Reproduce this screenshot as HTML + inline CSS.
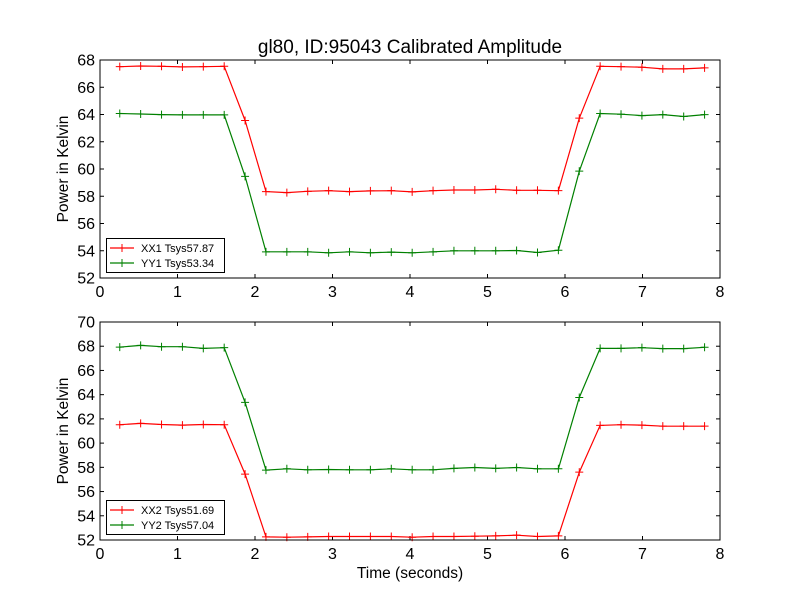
<!DOCTYPE html>
<html><head><meta charset="utf-8"><style>
body{margin:0;background:#fff;}
svg{display:block;font-family:"Liberation Sans",sans-serif;}
</style></head><body>
<svg id="chart" width="800" height="600" viewBox="0 0 800 600">
<rect width="800" height="600" fill="#fff"/>
<text x="410" y="53" font-size="19" text-anchor="middle">gl80, ID:95043 Calibrated Amplitude</text>
<text x="410" y="578" font-size="15.5" text-anchor="middle">Time (seconds)</text>
</svg>
<script>
const xTicks = [0,1,2,3,4,5,6,7,8];
const yTicksTop = [52,54,56,58,60,62,64,66,68];
const yTicksBottom = [52,54,56,58,60,62,64,66,68,70];
const tStart = 0.255, tStep = 0.2695, nPts = 29;
const xx1 = [67.51,67.56,67.54,67.49,67.51,67.54,63.56,58.34,58.27,58.36,58.41,58.34,58.39,58.41,58.32,58.41,58.46,58.46,58.51,58.44,58.44,58.41,63.73,67.54,67.51,67.47,67.35,67.35,67.42];
const yy1 = [64.07,64.04,63.99,63.97,63.97,63.97,59.46,53.92,53.92,53.92,53.85,53.92,53.85,53.90,53.85,53.92,54.0,54.0,54.0,54.02,53.87,54.04,59.84,64.07,64.02,63.92,63.99,63.85,63.99];
const xx2 = [61.52,61.63,61.54,61.49,61.54,61.52,57.44,52.26,52.23,52.26,52.29,52.29,52.29,52.29,52.23,52.29,52.29,52.31,52.34,52.40,52.29,52.34,57.60,61.46,61.52,61.49,61.40,61.40,61.40];
const yy2 = [67.93,68.07,67.96,67.96,67.82,67.88,63.36,57.77,57.88,57.80,57.82,57.80,57.80,57.88,57.80,57.80,57.91,57.99,57.91,57.99,57.88,57.88,63.77,67.82,67.82,67.88,67.80,67.80,67.91];
const times = xx1.map((_,i)=>tStart+i*tStep);

const NS="http://www.w3.org/2000/svg";
const svg=document.getElementById('chart');
function mk(tag,attrs,parent){const e=document.createElementNS(NS,tag);for(const k in attrs)e.setAttribute(k,attrs[k]);(parent||svg).appendChild(e);return e;}

function panel(id,top,bottom,ymin,ymax,yTicks,series,legendY){
  const L=100,R=720;
  const g=mk('g',{});
  
  
  const xs=v=>L+(v-0)/(8-0)*(R-L);
  const ys=v=>bottom-(v-ymin)/(ymax-ymin)*(bottom-top);
  xTicks.forEach(t=>{
    const x=xs(t);
    mk('line',{x1:x,x2:x,y1:bottom,y2:bottom-4,stroke:'#000'},g);
    mk('line',{x1:x,x2:x,y1:top,y2:top+4,stroke:'#000'},g);
    const tx=mk('text',{x:x,y:bottom+19,'font-size':16,'text-anchor':'middle'},g);
    tx.textContent=t;
    
    
  });
  yTicks.forEach(t=>{
    const y=ys(t);
    mk('line',{x1:L,x2:L+4,y1:y,y2:y,stroke:'#000'},g);
    mk('line',{x1:R,x2:R-4,y1:y,y2:y,stroke:'#000'},g);
    const tx=mk('text',{x:L-5,y:y+5.5,'font-size':16,'text-anchor':'end'},g);
    tx.textContent=t;
    
    
  });
  const yl=mk('text',{x:0,y:0,'font-size':15.5,'text-anchor':'middle',transform:`translate(68,${(top+bottom)/2}) rotate(-90)`},g);
  yl.textContent='Power in Kelvin';
  
  
  series.forEach(s=>{
    const sg=mk('g',{},g);
    
    
    const pts=s.vals.map((v,i)=>xs(times[i]).toFixed(1)+','+ys(v).toFixed(1)).join(' ');
    mk('polyline',{points:pts,fill:'none',stroke:s.color,'stroke-width':1.2},sg);
    s.vals.forEach((v,i)=>{
      const x=xs(times[i]),y=ys(v);
      const m=mk('path',{d:`M${x-4},${y}H${x+4}M${x},${y-4}V${y+4}`,stroke:s.color,'stroke-width':1},sg);
      
      
    });
  });
  mk('rect',{x:L,y:top,width:R-L,height:bottom-top,fill:'none',stroke:'#000','stroke-width':1},g);
  const lg=mk('g',{},g);
  
  
  mk('rect',{x:106.5,y:legendY+0.5,width:118,height:34,fill:'#fff',stroke:'#000','stroke-width':1},lg);
  series.forEach((s,i)=>{
    const y=legendY+10+i*15;
    const e=mk('g',{},lg);
    
    
    mk('line',{x1:110,x2:134,y1:y,y2:y,stroke:s.color,'stroke-width':1.2},e);
    mk('path',{d:`M118,${y}H126M122,${y-4}V${y+4}`,stroke:s.color},e);
    const t=mk('text',{x:141,y:y+4,'font-size':11},e);
    t.textContent=s.name;
  });
}
panel('top',60,278,52,68,yTicksTop,[{name:'XX1 Tsys57.87',vals:xx1,color:'#ff0000'},{name:'YY1 Tsys53.34',vals:yy1,color:'#008000'}],238);
panel('bottom',322,540,52,70,yTicksBottom,[{name:'XX2 Tsys51.69',vals:xx2,color:'#ff0000'},{name:'YY2 Tsys57.04',vals:yy2,color:'#008000'}],500);
</script>
</body></html>
